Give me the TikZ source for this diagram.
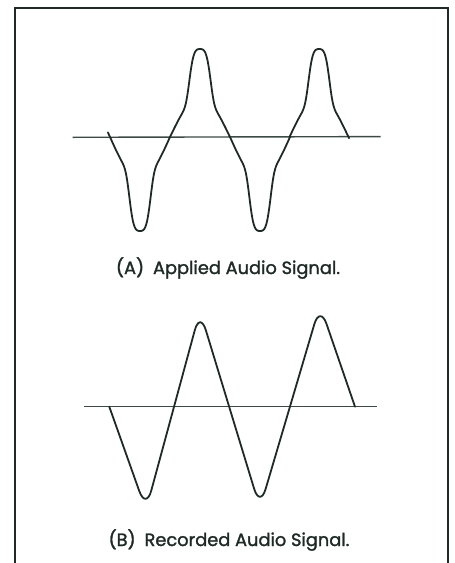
\documentclass[tikz,border=0pt]{standalone}
\usepackage{fontspec}
\setmainfont{Poppins}
\newfontfamily\capfont[FakeBold=1.5]{Poppins}
\definecolor{ink}{HTML}{1F2A27}
\definecolor{axisc}{HTML}{3C4A45}
\begin{document}
\begin{tikzpicture}[x=1pt,y=-1pt,
  frame/.style={draw=ink,line width=2pt},
  wave/.style={draw=ink,line width=1.8pt,line join=round,line cap=round},
  axisline/.style={draw=axisc,line width=1.4pt},
  caption/.style={font=\capfont\fontsize{17.8}{20}\selectfont,text=ink,anchor=base,inner sep=0pt},
  declare function={g(\t)=0.55*exp(-min(((\t*\t)/0.1444)^2,9))+0.45*cos(90*\t);}]
\useasboundingbox (0,0) rectangle (455,563);
% frame (open at the bottom)
\draw[frame] (15,563) -- (15,8) -- (448,8) -- (448,563);
% (A) applied signal
\draw[axisline] (72.7,137.3) -- (380.7,136.6);
\draw[wave]
  plot[domain=-1.07:1,samples=70,smooth] ({140+30*\x},{137-(-94)*g(\x)})
  -- plot[domain=-1:1,samples=70,smooth] ({200+30*\x},{137-88*g(\x)})
  -- plot[domain=-1:1,samples=70,smooth] ({260+30*\x},{137-(-94)*g(\x)})
  -- plot[domain=-1:1.02,samples=70,smooth] ({319+29.5*\x},{137-88*g(\x)});
\node[caption] (labA) at (228,274) {(A)\enspace Applied Audio Signal.};
% (B) recorded signal
\draw[axisline] (84,406.7) -- (376.7,406.7);
\coordinate (s0) at (109.3,406.7);
\coordinate (t1) at (146,510);
\coordinate (p1) at (200,311);
\coordinate (t2) at (260,508);
\coordinate (p2) at (320,305);
\coordinate (e0) at (355,406.7);
\draw[wave,rounded corners=20pt] (s0) -- (t1) -- (p1) -- (t2) -- (p2) -- (e0);
\node[caption] (labB) at (229,546) {(B)\enspace Recorded Audio Signal.};
\end{tikzpicture}
\end{document}
